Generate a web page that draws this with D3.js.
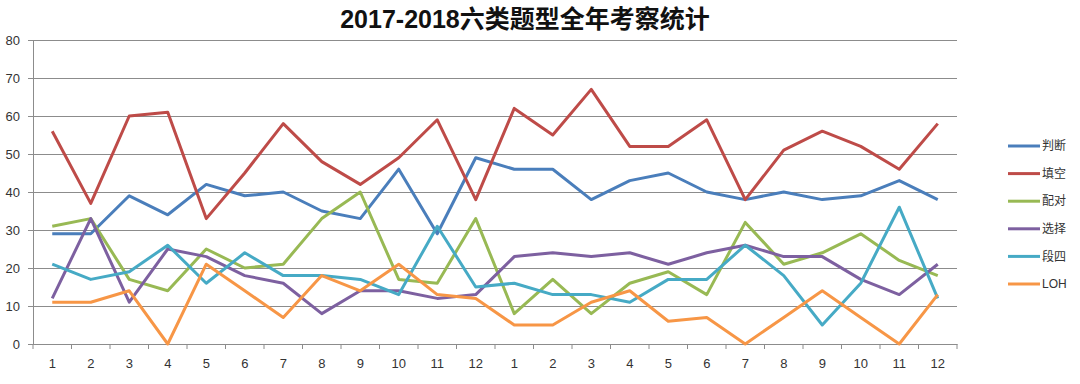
<!DOCTYPE html>
<meta charset="utf-8">
<head>
<style>
body { margin: 0; background: #fff; }
.grid line { stroke: #8c8c8c; stroke-width: 1px; }
.line { fill: none; stroke-width: 3px; stroke-linejoin: round; }
text { font-family: "Liberation Sans", "Noto Sans CJK SC", sans-serif; fill: #222; }
</style>
</head>
<body>
<script src="https://d3js.org/d3.v7.min.js"></script>
<script>

// months of two years, 1..12 twice
var months = ["1","2","3","4","5","6","7","8","9","10","11","12",
              "1","2","3","4","5","6","7","8","9","10","11","12"];
var seriesNames = ["判断", "填空", "配对", "选择", "段四", "LOH"];
var panduan = [29,29,39,34,42,39,40,35,33,46,29,49, 46,46,38,43,45,40,38,40,38,39,43,38];
var tiankong = [56,37,60,61,33,45,58,48,42,49,59,38, 62,55,67,52,52,59,38,51,56,52,46,58];
var peidui = [31,33,17,14,25,20,21,33,40,17,16,33, 8,17,8,16,19,13,32,21,24,29,22,18];
var xuanze = [12,33,11,25,23,18,16,8,14,14,12,13, 23,24,23,24,21,24,26,23,23,17,13,21];
var duansi = [21,17,19,26,16,24,18,18,17,13,31,15, 16,13,13,11,17,17,26,18,5,16,36,12];
var loh = [11,11,14,0,21,14,7,18,14,21,13,12, 5,5,11,14,6,7,0,7,14,7,0,13];
var yTicks = [0,10,20,30,40,50,60,70,80];

var colors = ["#4a7ebb", "#be4b48", "#98b954", "#7d60a0", "#46aac5", "#f79646"];
var allSeries = [panduan, tiankong, peidui, xuanze, duansi, loh];

var margin = {top: 40, left: 33},
    width = 924,
    height = 304;

var svg = d3.select("body").append("svg")
    .attr("width", 1080)
    .attr("height", 384);

// title
svg.append("text")
    .attr("x", 525)
    .attr("y", 28)
    .attr("text-anchor", "middle")
    .attr("font-size", "25px")
    .attr("font-weight", "bold")
    .style("fill", "#111")
    .text("2017-2018六类题型全年考察统计");

var g = svg.append("g")
    .attr("transform", "translate(" + margin.left + "," + margin.top + ")");

var idx = d3.range(months.length);
var x = d3.scaleBand().domain(idx).range([0, width]);
var y = d3.scaleLinear().domain([0, 80]).range([height, 0]);

// horizontal gridlines
g.append("g")
    .attr("class", "grid")
    .call(d3.axisLeft(y).tickValues(yTicks).tickSize(-width).tickFormat(""))
    .call(function(a) { a.select(".domain").remove(); });

// y axis
var yAxis = g.append("g")
    .call(d3.axisLeft(y).tickValues(yTicks).tickSize(5).tickPadding(8));
yAxis.select(".domain").attr("stroke", "#8c8c8c");
yAxis.selectAll(".tick line").attr("stroke", "#8c8c8c");
yAxis.selectAll("text").attr("font-size", "13px").style("fill", "#333");

// x axis, ticks between categories
var xAxis = g.append("g")
    .attr("transform", "translate(0," + height + ")")
    .call(d3.axisBottom(x).tickFormat(function(i) { return months[i]; }).tickSize(0).tickPadding(15));
xAxis.select(".domain").attr("stroke", "#8c8c8c");
xAxis.selectAll("text").attr("font-size", "13px").style("fill", "#333");
xAxis.selectAll(".sep")
    .data(d3.range(months.length + 1))
  .enter().append("line")
    .attr("x1", function(i) { return i * x.bandwidth(); })
    .attr("x2", function(i) { return i * x.bandwidth(); })
    .attr("y1", 0)
    .attr("y2", 5)
    .attr("stroke", "#8c8c8c");

var line = d3.line()
    .x(function(d, i) { return x(i) + x.bandwidth() / 2; })
    .y(function(d) { return y(d); });

allSeries.forEach(function(s, k) {
  g.append("path")
      .datum(s)
      .attr("class", "line")
      .attr("stroke", colors[k])
      .attr("d", line);
});

// legend
var legend = svg.append("g").attr("transform", "translate(1008,146)");
seriesNames.forEach(function(name, k) {
  var row = legend.append("g").attr("transform", "translate(0," + (k * 27.6) + ")");
  row.append("line")
      .attr("x1", 0).attr("x2", 32)
      .attr("stroke", colors[k])
      .attr("stroke-width", 3);
  row.append("text")
      .attr("x", 34)
      .attr("dy", "0.35em")
      .attr("font-size", "12px")
      .style("fill", "#333")
      .text(name);
});

</script>
</body>
